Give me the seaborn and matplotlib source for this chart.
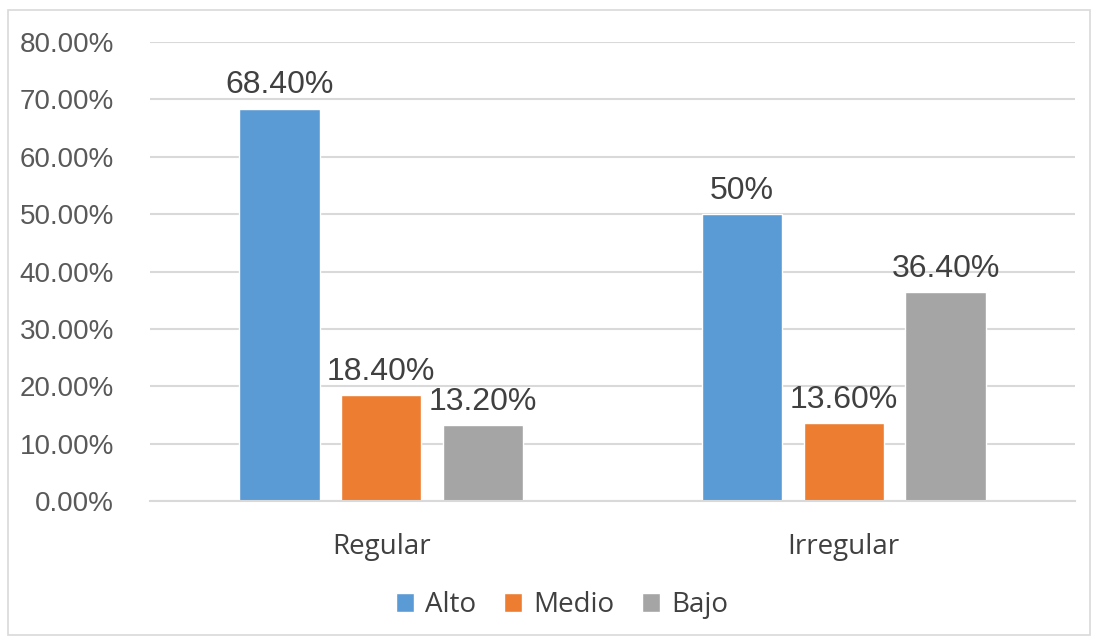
import matplotlib
matplotlib.use("Agg")
import matplotlib.pyplot as plt
import seaborn as sns
import pandas as pd
from matplotlib.patches import Rectangle

categories = ["Regular", "Irregular"]
levels = ["Alto", "Medio", "Bajo"]
alto = [0.684, 0.50]
medio = [0.184, 0.136]
bajo = [0.132, 0.364]
labels_alto = ["68.40%", "50%"]
labels_medio = ["18.40%", "13.60%"]
labels_bajo = ["13.20%", "36.40%"]
yticks = [0, 0.1, 0.2, 0.3, 0.4, 0.5, 0.6, 0.7, 0.8]
ytick_labels = ["0.00%", "10.00%", "20.00%", "30.00%", "40.00%", "50.00%", "60.00%", "70.00%", "80.00%"]
colors = ["#5B9BD5", "#ED7D31", "#A5A5A5"]

rows = []
for lvl, vals in zip(levels, [alto, medio, bajo]):
    for c, v in zip(categories, vals):
        rows.append({"cat": c, "nivel": lvl, "valor": v})
df = pd.DataFrame(rows)

sns.set_theme(style="white")
plt.rcParams["font.family"] = ["Liberation Sans", "DejaVu Sans"]

W, H = 1097, 641
fig = plt.figure(figsize=(W / 100, H / 100), dpi=100)
ax = fig.add_axes([150 / W, (H - 501) / H, (1075 - 150) / W, (501 - 42) / H])

sns.barplot(data=df, x="cat", y="valor", hue="nivel", order=categories,
            hue_order=levels, palette=colors, width=0.66, gap=0.21,
            saturation=1, ax=ax, legend=True)

ax.set_ylim(0, 0.8)
ax.set_xlim(-0.5, 1.5)
ax.set_yticks(yticks)
ax.set_yticklabels(ytick_labels, fontsize=20, color="#595959")
ax.yaxis.grid(True, color="#d9d9d9", linewidth=1.5)
ax.set_axisbelow(True)
for s in ["left", "right", "top"]:
    ax.spines[s].set_visible(False)
ax.spines["bottom"].set_color("#d9d9d9")
ax.spines["bottom"].set_linewidth(1.5)
ax.tick_params(axis="y", length=0, pad=26)
ax.tick_params(axis="x", length=0, pad=23)
for t in ax.get_xticklabels():
    t.set_fontfamily(["Open Sans", "DejaVu Sans"])
    t.set_fontsize(20)
    t.set_color("#404040")
ax.set_xlabel("")
ax.set_ylabel("")

for cont, labs in zip(ax.containers, [labels_alto, labels_medio, labels_bajo]):
    ax.bar_label(cont, labels=labs, fontsize=23, color="#404040", padding=6)

ax.legend_.remove()
handles, labs = ax.get_legend_handles_labels()
leg = fig.legend(handles, labs, loc="center", bbox_to_anchor=(562 / W, (H - 605) / H),
                 bbox_transform=fig.transFigure,
                 ncol=3, frameon=False, handlelength=0.65, handleheight=0.65,
                 handletextpad=0.4, columnspacing=1.0,
                 prop={"family": ["Open Sans", "DejaVu Sans"], "size": 20})
for t in leg.get_texts():
    t.set_color("#404040")

fig.patches.append(Rectangle((8 / W, 6 / H), (1090 - 8) / W, (633 - 8) / H,
                             transform=fig.transFigure, fill=False,
                             edgecolor="#d9d9d9", linewidth=1.2))

fig.savefig("out.png", dpi=100)
